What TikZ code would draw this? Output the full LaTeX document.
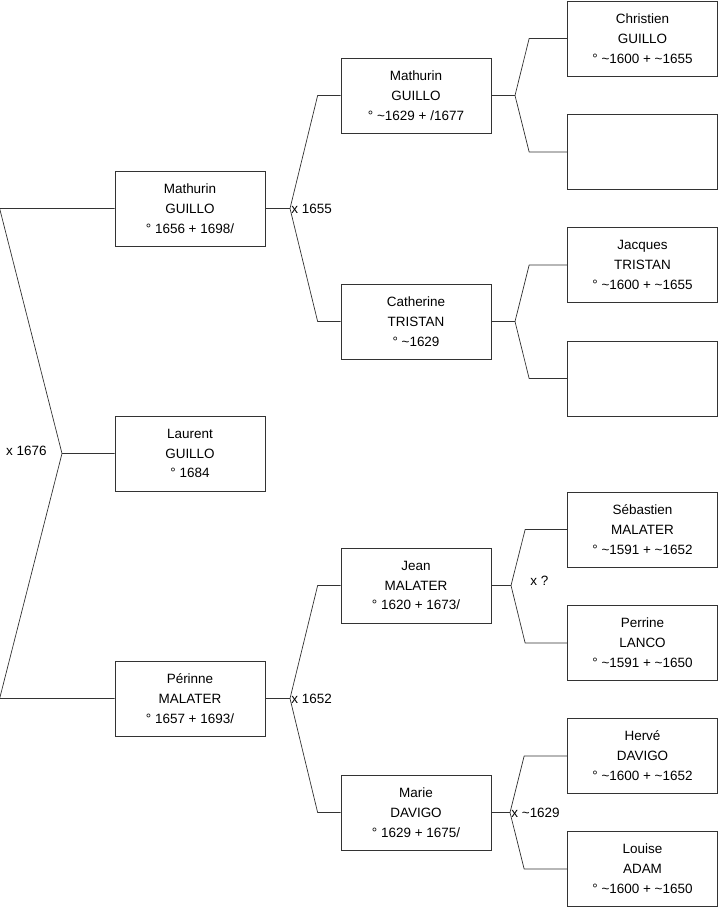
\documentclass[tikz,border=0pt]{standalone}
\usepackage{fontspec}
\setmainfont{Liberation Sans}

\begin{document}
\begin{tikzpicture}[x=0.03cm, y=-0.03cm,
  person/.style={draw=black!80, line width=0.6pt, minimum width=4.5cm, minimum height=2.25cm,
    inner sep=0pt, align=center, font=\fontsize{11.5}{17}\selectfont},
  link/.style={draw=black!80, line width=0.6pt},
  union/.style={inner sep=1pt, font=\fontsize{11.5}{12}\selectfont}]
\useasboundingbox (0,0) rectangle (719,908);

% Generation 1
\node[person] (mathurin) at (190,208.5) {Mathurin\\GUILLO\\° 1656 + 1698/};
\node[person] (laurent) at (190,453.5) {Laurent\\GUILLO\\° 1684};
\node[person] (perinne) at (190,698.5) {Périnne\\MALATER\\° 1657 + 1693/};

% Generation 2
\node[person] (mathurinP) at (416,95.5) {Mathurin\\GUILLO\\° \textasciitilde1629 + /1677};
\node[person] (catherine) at (416,321.5) {Catherine\\TRISTAN\\° \textasciitilde1629};
\node[person] (jean) at (416,585.5) {Jean\\MALATER\\° 1620 + 1673/};
\node[person] (marie) at (416,812.5) {Marie\\DAVIGO\\° 1629 + 1675/};

% Generation 3
\node[person] (christien) at (642.5,38.5) {Christien\\GUILLO\\° \textasciitilde1600 + \textasciitilde1655};
\node[person] (blankA) at (642.5,152) {};
\node[person] (jacques) at (642.5,265) {Jacques\\TRISTAN\\° \textasciitilde1600 + \textasciitilde1655};
\node[person] (blankB) at (642.5,378.5) {};
\node[person] (sebastien) at (642.5,529.5) {Sébastien\\MALATER\\° \textasciitilde1591 + \textasciitilde1652};
\node[person] (perrine) at (642.5,643) {Perrine\\LANCO\\° \textasciitilde1591 + \textasciitilde1650};
\node[person] (herve) at (642.5,756) {Hervé\\DAVIGO\\° \textasciitilde1600 + \textasciitilde1652};
\node[person] (louise) at (642.5,869) {Louise\\ADAM\\° \textasciitilde1600 + \textasciitilde1650};

% Laurent's parents
\coordinate (fkL) at (62,453.5);
\draw[link] (laurent.west) -- (fkL) -- ([xshift=-3.45cm]mathurin.west) -- (mathurin.west);
\draw[link] (fkL) -- ([xshift=-3.45cm]perinne.west) -- (perinne.west);
\node[union, anchor=east] (uL) at (48,451) {x 1676};

% Mathurin's parents
\coordinate (fkM) at (290,208.5);
\draw[link] (mathurin.east) -- (fkM) -- ([xshift=-0.69cm]mathurinP.west) -- (mathurinP.west);
\draw[link] (fkM) -- ([xshift=-0.69cm]catherine.west) -- (catherine.west);
\node[union, anchor=west] (uM) at (fkM) {x 1655};

% Perinne's parents
\coordinate (fkP) at (290,698.5);
\draw[link] (perinne.east) -- (fkP) -- ([xshift=-0.69cm]jean.west) -- (jean.west);
\draw[link] (fkP) -- ([xshift=-0.69cm]marie.west) -- (marie.west);
\node[union, anchor=west] (uP) at (fkP) {x 1652};

% Mathurin (senior)'s parents
\coordinate (fkMP) at (515,95.5);
\draw[link] (mathurinP.east) -- (fkMP) -- ([xshift=-1.14cm]christien.west) -- (christien.west);
\draw[link] (fkMP) -- ([xshift=-1.14cm]blankA.west) -- (blankA.west);

% Catherine's parents
\coordinate (fkC) at (515,321.5);
\draw[link] (catherine.east) -- (fkC) -- ([xshift=-1.14cm]jacques.west) -- (jacques.west);
\draw[link] (fkC) -- ([xshift=-1.14cm]blankB.west) -- (blankB.west);

% Jean's parents
\coordinate (fkJ) at (511,585.5);
\draw[link] (jean.east) -- (fkJ) -- ([xshift=-1.26cm]sebastien.west) -- (sebastien.west);
\draw[link] (fkJ) -- ([xshift=-1.26cm]perrine.west) -- (perrine.west);
\node[union, anchor=west] (uJ) at (529,581) {x ?};

% Marie's parents
\coordinate (fkMa) at (510,812.5);
\draw[link] (marie.east) -- (fkMa) -- ([xshift=-1.29cm]herve.west) -- (herve.west);
\draw[link] (fkMa) -- ([xshift=-1.29cm]louise.west) -- (louise.west);
\node[union, anchor=west] (uMa) at (fkMa) {x \textasciitilde1629};
\end{tikzpicture}
\end{document}
